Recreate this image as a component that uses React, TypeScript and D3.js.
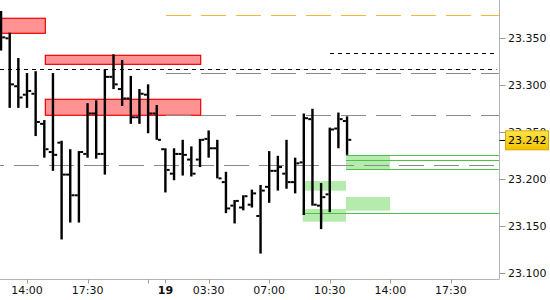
import React from 'react';
import * as d3 from 'd3';

const opens = [23.377, 23.350, 23.299, 23.290, 23.291, 23.259, 23.229, 23.239, 23.205, 23.183, 23.227, 23.270, 23.227, 23.309, 23.296, 23.286, 23.266, 23.290, 23.270, 23.232, 23.206, 23.227, 23.221, 23.221, 23.243, 23.233, 23.197, 23.172, 23.170, 23.173, 23.161, 23.192, 23.209, 23.206, 23.197, 23.218, 23.264, 23.172, 23.184, 23.254, 23.262];
const highs = [23.379, 23.356, 23.329, 23.313, 23.315, 23.263, 23.313, 23.241, 23.232, 23.230, 23.281, 23.284, 23.317, 23.333, 23.327, 23.310, 23.296, 23.301, 23.279, 23.233, 23.233, 23.242, 23.235, 23.243, 23.252, 23.242, 23.208, 23.178, 23.183, 23.189, 23.194, 23.230, 23.225, 23.242, 23.223, 23.270, 23.275, 23.196, 23.255, 23.271, 23.267];
const lows = [23.337, 23.276, 23.276, 23.276, 23.246, 23.223, 23.209, 23.136, 23.154, 23.154, 23.223, 23.222, 23.205, 23.296, 23.278, 23.259, 23.259, 23.249, 23.242, 23.186, 23.199, 23.204, 23.203, 23.213, 23.223, 23.201, 23.164, 23.153, 23.167, 23.170, 23.121, 23.175, 23.188, 23.190, 23.185, 23.162, 23.172, 23.147, 23.165, 23.233, 23.226];
const closes = [23.351, 23.301, 23.287, 23.294, 23.261, 23.232, 23.226, 23.205, 23.183, 23.229, 23.270, 23.227, 23.309, 23.301, 23.286, 23.266, 23.291, 23.270, 23.242, 23.210, 23.227, 23.226, 23.206, 23.242, 23.233, 23.201, 23.169, 23.177, 23.182, 23.185, 23.188, 23.209, 23.213, 23.197, 23.217, 23.265, 23.173, 23.181, 23.253, 23.264, 23.242];

const yTicks = [23.1, 23.15, 23.2, 23.25, 23.3, 23.35];
const xTickIdx = [3, 10, 17, 19, 24, 31, 38, 45, 52];
const xTickLabels = ['14:00', '17:30', '', '19', '03:30', '07:00', '10:30', '14:00', '17:30'];
const lastPrice = 23.242;

const redZoneStart = [-0.5, 5.12, 5.12];
const redZoneEnd = [5.12, 23.08, 23.08];
const redZoneTop = [23.3713, 23.3319, 23.2851];
const redZoneBottom = [23.3553, 23.3223, 23.2681];

const greenZoneStart = [35.06, 34.87, 39.88, 39.88];
const greenZoneEnd = [39.88, 39.88, 44.97, 44.97];
const greenZoneTop = [23.1982, 23.1684, 23.2259, 23.1812];
const greenZoneBottom = [23.1879, 23.1549, 23.2106, 23.1666];

const greenLevels = [23.2259, 23.2202, 23.2106, 23.1641];
const greenLevelStart = [39.88, 39.88, 39.88, 34.87];

const orangeLevels = [23.3745];
const orangeLevelStart = [19.07];
const grayLevels = [23.3128, 23.2681, 23.2149];
const grayLevelStart = [19.07, 19.07, -1];
const blackLevels = [23.317, 23.334];
const blackLevelStart = [-1, 38.03];

const W = 550;
const H = 300;
const plotRight = 499.5;
const plotBottom = 279.5;

export default function App() {
  const x = d3.scaleLinear().domain([0, 52]).range([1.05, 450.85]);
  const y = d3.scaleLinear().domain([23.1, 23.35]).range([273.3, 38.3]);
  const font = '"DejaVu Sans", Verdana, sans-serif';
  const dashFor = (sx: number) => {
    const x0 = Math.max(0, x(sx));
    return x0;
  };

  return (
    <svg width={W} height={H} style={{ position: 'absolute', left: 0, top: 0, background: '#fff' }}>
      <defs>
        <clipPath id="plot">
          <rect x={0} y={0} width={plotRight} height={plotBottom} />
        </clipPath>
        <linearGradient id="yel" x1="0" y1="0" x2="0" y2="1">
          <stop offset="0" stopColor="#ffe34a" />
          <stop offset="1" stopColor="#f2c200" />
        </linearGradient>
      </defs>
      <rect x={0} y={0} width={W} height={H} fill="#fff" />
      <g clipPath="url(#plot)">
        {redZoneStart.map((s, i) => (
          <rect key={'r' + i} x={x(s)} y={y(redZoneTop[i])} width={x(redZoneEnd[i]) - x(s)}
            height={y(redZoneBottom[i]) - y(redZoneTop[i])} fill="#ff9393" stroke="#ee0000" strokeWidth={1.2} />
        ))}
        {greenZoneStart.map((s, i) => (
          <rect key={'g' + i} x={x(s)} y={y(greenZoneTop[i])} width={x(greenZoneEnd[i]) - x(s)}
            height={y(greenZoneBottom[i]) - y(greenZoneTop[i])} fill="#b6ebae" />
        ))}
        {orangeLevels.map((v, i) => (
          <line key={'o' + i} x1={dashFor(orangeLevelStart[i])} x2={plotRight} y1={Math.round(y(v)) + 0.5} y2={Math.round(y(v)) + 0.5}
            stroke="#f3b73c" strokeWidth={1} strokeDasharray="25,10" />
        ))}
        {grayLevels.map((v, i) => (
          <line key={'gl' + i} x1={dashFor(grayLevelStart[i])} x2={plotRight} y1={Math.round(y(v)) + 0.5} y2={Math.round(y(v)) + 0.5}
            stroke="#8a8a8a" strokeWidth={1} strokeDasharray="25,10" strokeDashoffset={grayLevelStart[i] < 0 ? 21 : 0} />
        ))}
        {blackLevels.map((v, i) => (
          <line key={'b' + i} x1={dashFor(blackLevelStart[i])} x2={plotRight - 3} y1={Math.round(y(v)) + 0.5} y2={Math.round(y(v)) + 0.5}
            stroke="#000" strokeWidth={1} strokeDasharray="4,4" />
        ))}
        {greenLevels.map((v, i) => (
          <line key={'gv' + i} x1={x(greenLevelStart[i])} x2={plotRight} y1={Math.round(y(v)) + 0.5} y2={Math.round(y(v)) + 0.5}
            stroke="#4cc24c" strokeWidth={1} />
        ))}
        {opens.map((o, i) => {
          const cx = x(i);
          const bw = 2.4;
          const tw = 3;
          return (
            <g key={'bar' + i} fill="#000">
              <rect x={cx - bw / 2} y={y(highs[i])} width={bw} height={y(lows[i]) - y(highs[i])} />
              <rect x={cx - bw / 2 - tw} y={y(o) - 1} width={tw} height={2} />
              <rect x={cx + bw / 2} y={y(closes[i]) - 1} width={tw} height={2} />
            </g>
          );
        })}
      </g>
      <line x1={plotRight} x2={plotRight} y1={0} y2={plotBottom} stroke="#b4b4b4" />
      <line x1={0} x2={plotRight} y1={plotBottom} y2={plotBottom} stroke="#b4b4b4" />
      {yTicks.map((v) => (
        <g key={'yt' + v}>
          <line x1={plotRight} x2={plotRight + 6} y1={Math.round(y(v)) + 0.5} y2={Math.round(y(v)) + 0.5} stroke="#9a9a9a" />
          <text x={508} y={y(v)} dominantBaseline="central" fontFamily={font} fontSize={11} fill="#111">
            {d3.format('.3f')(v)}
          </text>
        </g>
      ))}
      {xTickIdx.map((t, i) => (
        <g key={'xt' + i}>
          <line x1={Math.round(x(t)) + 0.5} x2={Math.round(x(t)) + 0.5} y1={plotBottom} y2={plotBottom + 4} stroke="#9a9a9a" />
          <text x={x(t)} y={290} textAnchor="middle" dominantBaseline="central" fontFamily={font} fontSize={11}
            fontWeight={xTickLabels[i] === '19' ? 'bold' : 'normal'} fill="#111">
            {xTickLabels[i]}
          </text>
        </g>
      ))}
      <line x1={plotRight} x2={plotRight + 6} y1={Math.round(y(lastPrice)) + 0.5} y2={Math.round(y(lastPrice)) + 0.5} stroke="#000" />
      <rect x={505.5} y={y(lastPrice) - 9} width={43} height={19} fill="url(#yel)" stroke="#d9a800" strokeWidth={1} />
      <text x={508} y={y(lastPrice) + 0.5} dominantBaseline="central" fontFamily={font} fontSize={11} fill="#000">
        {d3.format('.3f')(lastPrice)}
      </text>
    </svg>
  );
}
